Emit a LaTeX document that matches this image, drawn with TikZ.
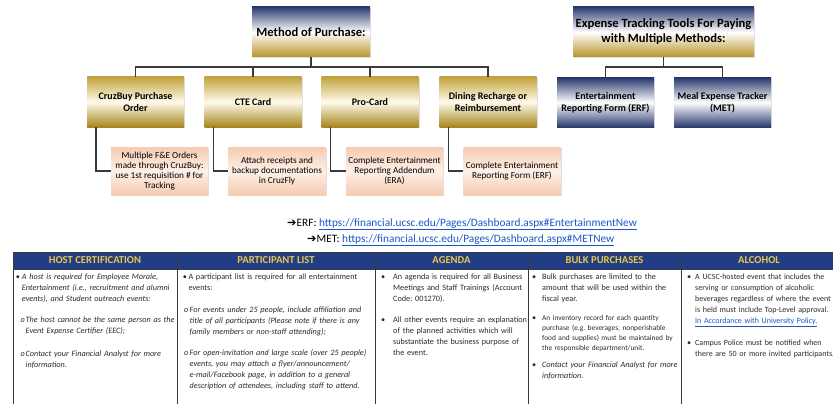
\documentclass[tikz,border=0pt]{standalone}
\usepackage{fontspec}
\setmainfont{Carlito}
\newfontfamily\symfont{DejaVu Sans}
\usetikzlibrary{shadows}
\frenchspacing
\definecolor{navy}{HTML}{2B3B6E}
\definecolor{gold}{HTML}{B8932A}
\definecolor{goldtop}{HTML}{C2A33D}
\definecolor{golddark}{HTML}{A7851F}
\definecolor{cream}{HTML}{FFFBEB}
\definecolor{peach}{HTML}{F5CBB0}
\definecolor{peachlight}{HTML}{FDF1E8}
\definecolor{hdrblue}{HTML}{213D86}
\definecolor{hdrgold}{HTML}{E8C84C}
\definecolor{linkblue}{HTML}{1A56C8}
\definecolor{linegray}{HTML}{3A3A3A}
\definecolor{txt}{HTML}{2A2A2A}
\begin{document}
\begin{tikzpicture}[x=1pt,y=-1pt,
  box/.style={draw=none, inner sep=1pt, align=center, text=black,
    drop shadow={opacity=0.25,shadow xshift=1pt,shadow yshift=-1.2pt}},
  headbox/.style={box, minimum height=50pt, top color=navy, bottom color=gold, middle color=white,
    font=\fontsize{12.6}{15}\selectfont\bfseries},
  goldbox/.style={box, minimum width=97pt, minimum height=50pt, top color=goldtop, bottom color=golddark, middle color=cream,
    font=\fontsize{10}{11.7}\selectfont\bfseries},
  peachbox/.style={box, minimum width=97pt, minimum height=48pt, top color=peach, bottom color=peach, middle color=peachlight,
    font=\fontsize{9.2}{10}\selectfont},
  navybox/.style={box, minimum width=97pt, minimum height=49pt, top color=navy, bottom color=navy, middle color=white,
    font=\fontsize{10}{11.7}\selectfont\bfseries},
  conn/.style={draw=linegray, line width=1.1pt},
  tline/.style={draw=linegray, line width=0.8pt},
  hdr/.style={font=\fontsize{10.6}{12}\selectfont\bfseries, text=hdrgold, inner sep=0},
  bodytxt/.style={anchor=base west, inner sep=0, text width=230pt, align=left, text=txt,
    font=\fontsize{8.2}{11.3}\selectfont},
  bodyit/.style={bodytxt, font=\fontsize{8.2}{11.3}\selectfont\itshape},
  smalltxt/.style={bodytxt, font=\fontsize{7.4}{10}\selectfont},
  coltxt/.style={bodytxt, font=\fontsize{8}{11.1}\selectfont},
  bmark/.style={anchor=base west, inner sep=0, text=txt, font=\fontsize{8.2}{11.3}\selectfont},
  linktxt/.style={anchor=base west, inner sep=0, font=\fontsize{11.3}{13}\selectfont}
]
\useasboundingbox (0,0) rectangle (833,404);

% ---------- left chart ----------
\node[headbox, minimum width=118pt] (mop) at (311,32) {Method of Purchase:};
\node[goldbox] (c1) at (135.5,102) {CruzBuy Purchase\\Order};
\node[goldbox] (c2) at (253,102) {CTE Card};
\node[goldbox] (c3) at (370,102) {Pro-Card};
\node[goldbox] (c4) at (488,102) {Dining Recharge or\\Reimbursement};
\node[peachbox] (d1) at (159.5,171) {Multiple F\&E Orders\\made through CruzBuy:\\use 1st requisition \# for\\Tracking};
\node[peachbox] (d2) at (277,171) {Attach receipts and\\backup documentations\\in CruzFly};
\node[peachbox] (d3) at (394.5,171) {Complete Entertainment\\Reporting Addendum\\(ERA)};
\node[peachbox] (d4) at (512,171) {Complete Entertainment\\Reporting Form (ERF)};
\coordinate (bus) at (311,67);
\foreach \c in {c1,c2,c3,c4}{\draw[conn] (mop.south) -- (bus) -| (\c.north);}
\foreach \c/\d in {c1/d1,c2/d2,c3/d3,c4/d4}{\draw[conn] ([xshift=-39.5pt]\c.south) |- (\d.west);}

% ---------- right chart ----------
\node[headbox, minimum width=181pt] (et) at (663.5,32) {Expense Tracking Tools For Paying\\with Multiple Methods:};
\node[navybox] (r1) at (605.5,102.5) {Entertainment\\Reporting Form (ERF)};
\node[navybox] (r2) at (722.5,102.5) {Meal Expense Tracker\\(MET)};
\coordinate (rbus) at (663.5,67);
\foreach \c in {r1,r2}{\draw[conn] (et.south) -- (rbus) -| (\c.north);}

% ---------- links ----------
\node[linktxt] (erf) at (287,226) {{\symfont\bfseries ➔}ERF: \textcolor{linkblue}{\underline{https://financial.ucsc.edu/Pages/Dashboard.aspx\#EntertainmentNew}}};
\node[linktxt] (met) at (307,242) {{\symfont\bfseries ➔}MET: \textcolor{linkblue}{\underline{https://financial.ucsc.edu/Pages/Dashboard.aspx\#METNew}}};

% ---------- table ----------
\fill[hdrblue] (13,252) rectangle (836,269);
\draw[tline] (13,252) -- (836,252);
\draw[tline] (13,269) -- (836,269);
\foreach \x in {13,177,375,528,681}{\draw[tline] (\x,252) -- (\x,405);}
\node[hdr] (t1) at (95,260.5) {HOST CERTIFICATION};
\node[hdr] (t2) at (276,260.5) {PARTICIPANT LIST};
\node[hdr] (t3) at (451.5,260.5) {AGENDA};
\node[hdr] (t4) at (604.5,260.5) {BULK PURCHASES};
\node[hdr] (t5) at (759,260.5) {ALCOHOL};

% column 1
\node[bmark] (m11) at (15.7,279) {•};
\node[bodyit] (p11) at (21.7,279) {A host is required for Employee Morale,\\Entertainment (i.e., recruitment and alumni\\events), and Student outreach events:};
\node[bmark] (m12) at (20.5,322) {\itshape o};
\node[bodyit] (p12) at (25.5,322) {The host cannot be the same person as the\\Event Expense Certifier (EEC);};
\node[bmark] (m13) at (20.5,356) {\itshape o};
\node[bodyit] (p13) at (25.5,356) {Contact your Financial Analyst for more\\information.};

% column 2
\node[bmark] (m21) at (182.7,279) {•};
\node[bodytxt] (p21) at (188.3,279) {A participant list is required for all entertainment\\events:};
\node[bmark] (m22) at (184,312) {\itshape o};
\node[bodyit] (p22) at (189.5,312) {For events under 25 people, include affiliation and\\title of all participants (Please note if there is any\\family members or non-staff attending);};
\node[bmark] (m23) at (184,355) {\itshape o};
\node[bodyit] (p23) at (189.5,355) {For open-invitation and large scale (over 25 people)\\events, you may attach a flyer/announcement/\\e-mail/Facebook page, in addition to a general\\description of attendees, including staff to attend.};

% column 3
\node[bmark] (m31) at (381,279) {•};
\node[bodytxt] (p31) at (393,279) {An agenda is required for all Business\\Meetings and Staff Trainings (Account\\Code: 001270).};
\node[bmark] (m32) at (381,322) {•};
\node[bodytxt] (p32) at (393,322) {All other events require an explanation\\of the planned activities which will\\substantiate the business purpose of\\the event.};

% column 4
\node[bmark] (m41) at (532,279) {•};
\node[bodytxt] (p41) at (542,279) {Bulk purchases are limited to the\\amount that will be used within the\\fiscal year.};
\node[bmark] (m42) at (532,320.5) {•};
\node[smalltxt] (p42) at (542,320.5) {An inventory record for each quantity\\purchase (e.g. beverages, nonperishable\\food and supplies) must be maintained by\\the responsible department/unit.};
\node[bmark] (m43) at (532,367) {•};
\node[bodyit] (p43) at (542,367) {Contact your Financial Analyst for more\\information.};

% column 5
\node[bmark] (m51) at (687,279) {•};
\node[coltxt] (p51) at (695,279) {A UCSC-hosted event that includes the\\serving or consumption of alcoholic\\beverages regardless of where the event\\is held must include Top-Level approval.\\\textcolor{linkblue}{\underline{In Accordance with University Policy.}}};
\node[bmark] (m52) at (687,345) {•};
\node[coltxt] (p52) at (695,345) {Campus Police must be notified when\\there are 50 or more invited participants.};
\end{tikzpicture}
\end{document}
